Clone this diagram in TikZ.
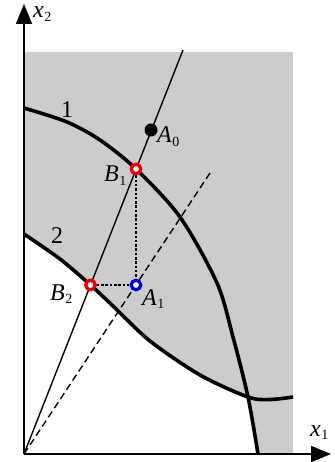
\documentclass[tikz,border=0pt]{standalone}
\usepackage{fontspec}
\setmainfont{Liberation Serif}
\usetikzlibrary{arrows.meta}
\definecolor{regiongrey}{RGB}{204,204,204}
\definecolor{ptred}{RGB}{235,0,0}
\definecolor{ptblue}{RGB}{0,0,235}
\newcommand{\lbl}[2]{\textit{#1}\kern0.5pt\raisebox{-0.35ex}{\fontsize{14}{14}\selectfont #2}}
\tikzset{
  axis/.style={line width=2pt,-{Triangle[length=20pt,width=16pt]}},
  curve/.style={line width=3.6pt},
  ray/.style={line width=1.4pt},
  dashray/.style={line width=1.4pt,dash pattern=on 7pt off 4pt},
  guide/.style={line width=1.3pt,dash pattern=on 2.5pt off 1.8pt},
  ring/.style={circle,draw=#1,line width=3.2pt,fill=white,minimum size=9.5pt,inner sep=0pt},
  dot/.style={circle,fill=black,minimum size=13pt,inner sep=0pt},
  lab/.style={anchor=base west,inner sep=0pt,font=\fontsize{24}{24}\selectfont},
}
\begin{document}
\begin{tikzpicture}[x=1pt,y=-1pt]
\useasboundingbox (0,0) rectangle (334,462);
\coordinate (O) at (24,454);
\coordinate (T1) at (183,50);
\coordinate (T2) at (212,170);
\coordinate (Y) at (24,4);
\coordinate (X) at (331,454);
% shaded region
\fill[regiongrey] (24,52) rectangle (293,454);
\begin{scope}
\clip (24,454) -- plot[smooth] coordinates {(24,108) (67,122) (100,140) (136,169) (180,217) (217,283) (233,337) (248,397) (258,454)} -- cycle;
\fill[white] (24,454) -- plot[smooth] coordinates {(24,234) (60,259) (90.5,285) (113,306) (150,341) (200,375) (248,397) (270,399.5) (293,397)} -- (293,454) -- cycle;
\end{scope}
% rays
\draw[ray] (O) -- (T1);
\draw[dashray] (O) -- (T2);
% curves
\draw[curve] plot[smooth] coordinates {(24,108) (67,122) (100,140) (136,169) (180,217) (217,283) (233,337) (248,397) (258,454)};
\draw[curve] plot[smooth] coordinates {(24,234) (60,259) (90.5,285) (113,306) (150,341) (200,375) (248,397) (270,399.5) (293,397)};
% axes
\draw[axis] (O) -- (Y);
\draw[axis] (O) -- (X);
% points
\node[dot] (A0) at (151,130) {};
\node[ring=ptred] (B1) at (136,169) {};
\node[ring=ptred] (B2) at (90.5,285) {};
\node[ring=ptblue] (A1) at (136,285) {};
\draw[guide] (B1) -- (A1);
\draw[guide] (B2) -- (A1);
% labels
\node[lab] (lA0) at (157,143) {\lbl{A}{0}};
\node[lab] (lB1) at (104,182) {\lbl{B}{1}};
\node[lab] (lB2) at (50,300) {\lbl{B}{2}};
\node[lab] (lA1) at (142,305) {\lbl{A}{1}};
\node[lab,text height=12pt,text depth=5pt] (lx2) at (33,18) {\lbl{x}{2}};
\node[lab] (lx1) at (310,436) {\lbl{x}{1}};
\node[lab] (l1) at (61,118) {1};
\node[lab] (l2) at (51,243) {2};
\end{tikzpicture}
\end{document}
